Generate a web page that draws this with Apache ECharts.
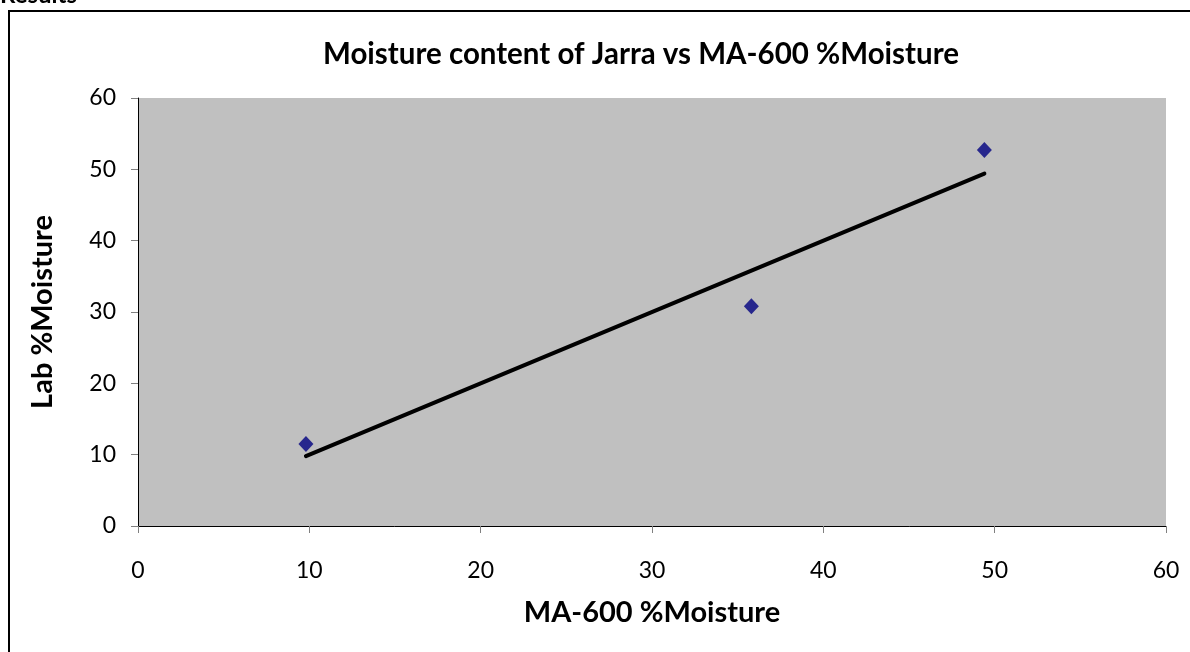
<!DOCTYPE html>
<html>
<head>
<meta charset="utf-8">
<script src="https://cdn.jsdelivr.net/npm/echarts@6/dist/echarts.min.js"></script>
<style>
html,body{margin:0;padding:0;background:#fff;}
#chart{width:1190px;height:652px;}
</style>
</head>
<body>
<div id="chart"></div>
<script>
// Data
const maMoisture = [9.8, 35.8, 49.4];      // x: MA-600 %Moisture
const labMoisture = [11.5, 30.8, 52.7];    // y: Lab %Moisture
const trendX = [9.8, 49.4];                // linear trendline endpoints (x)
const trendY = [9.8, 49.4];                // linear trendline endpoints (y)
const xTicks = [0, 10, 20, 30, 40, 50, 60];
const yTicks = [0, 10, 20, 30, 40, 50, 60];

const points = maMoisture.map((x, i) => [x, labMoisture[i]]);
const trend = trendX.map((x, i) => [x, trendY[i]]);

const FONT = 'Lato';
const chart = echarts.init(document.getElementById('chart'));
chart.setOption({
  animation: false,
  backgroundColor: '#fff',
  graphic: [
    { type: 'rect', shape: { x: 9, y: 11, width: 1300, height: 800 },
      style: { fill: 'none', stroke: '#000', lineWidth: 2 }, z: 0 },
    { type: 'text', left: 0, top: -17,
      style: { text: 'Results', font: 'bold 24px ' + FONT, fill: '#000' } }
  ],
  title: {
    text: 'Moisture content of Jarra vs MA-600 %Moisture',
    left: 636, top: 34, textAlign: 'center',
    textStyle: { fontFamily: FONT, fontWeight: 'bold', fontSize: 29.5, color: '#000' }
  },
  grid: { left: 138, top: 98, right: 24, bottom: 126, show: true,
          backgroundColor: '#c0c0c0', borderWidth: 0 },
  xAxis: {
    type: 'value', min: xTicks[0], max: xTicks[xTicks.length - 1], interval: 10,
    name: 'MA-600 %Moisture', nameLocation: 'middle', nameGap: 72,
    nameTextStyle: { fontFamily: FONT, fontWeight: 'bold', fontSize: 29, color: '#000' },
    axisLine: { show: true, lineStyle: { color: '#000', width: 1 } },
    axisTick: { show: true, length: 7, inside: false, lineStyle: { color: '#808080' } },
    axisLabel: { margin: 33, fontFamily: FONT, fontSize: 23, color: '#000' },
    splitLine: { show: false }
  },
  yAxis: {
    type: 'value', min: yTicks[0], max: yTicks[yTicks.length - 1], interval: 10,
    name: 'Lab %Moisture', nameLocation: 'middle', nameGap: 81, nameRotate: 90,
    nameTextStyle: { fontFamily: FONT, fontWeight: 'bold', fontSize: 29, color: '#000' },
    axisLine: { show: true, lineStyle: { color: '#000', width: 1 } },
    axisTick: { show: true, length: 7, inside: false, lineStyle: { color: '#808080' } },
    axisLabel: { margin: 22, fontFamily: FONT, fontSize: 23, color: '#000' },
    splitLine: { show: false }
  },
  series: [
    { type: 'line', data: trend, symbol: 'none', z: 2,
      lineStyle: { color: '#000', width: 4, cap: 'round' } },
    { type: 'scatter', data: points, symbol: 'diamond', symbolSize: [15, 16], z: 3,
      itemStyle: { color: '#000080' } }
  ]
});
</script>
</body>
</html>
